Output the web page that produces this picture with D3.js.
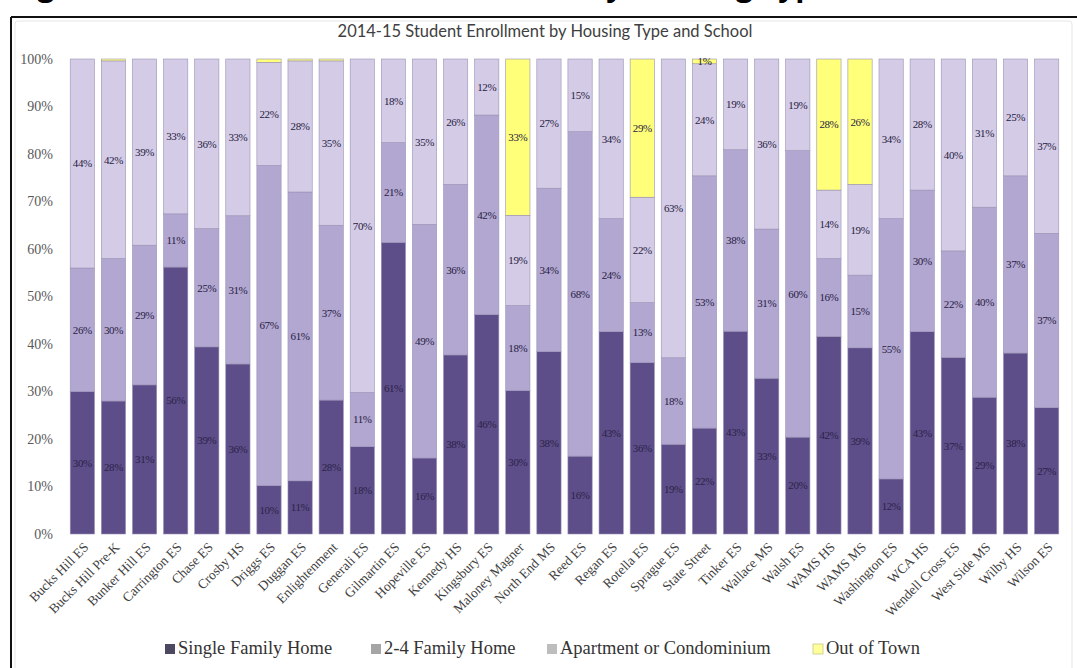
<!DOCTYPE html>
<html>
<head>
<meta charset="utf-8">
<script src="https://cdn.jsdelivr.net/npm/d3@7"></script>
<style>
  html, body { margin: 0; padding: 0; background: #fff; }
  svg { display: block; }
</style>
</head>
<body>
<svg id="chart" width="1077" height="668"></svg>
<script>
// Schools on the x axis
const schools = [
  "Bucks Hill ES", "Bucks Hill Pre-K", "Bunker Hill ES", "Carrington ES", "Chase ES",
  "Crosby HS", "Driggs ES", "Duggan ES", "Enlightenment", "Generali ES",
  "Gilmartin ES", "Hopeville ES", "Kennedy HS", "Kingsbury ES", "Maloney Magner",
  "North End MS", "Reed ES", "Regan ES", "Rotella ES", "Sprague ES",
  "State Street", "Tinker ES", "Wallace MS", "Walsh ES", "WAMS HS",
  "WAMS MS", "Washington ES", "WCA HS", "Wendell Cross ES", "West Side MS",
  "Wilby HS", "Wilson ES"
];

// Share of students (%) by housing type, one value per school
const singleFamily = [30.0, 28.0, 31.4, 56.2, 39.4, 35.8, 10.2, 11.2, 28.2, 18.4,
  61.4, 16.0, 37.7, 46.2, 30.2, 38.4, 16.4, 42.6, 36.1, 18.9,
  22.3, 42.7, 32.8, 20.4, 41.6, 39.2, 11.6, 42.6, 37.2, 28.8,
  38.1, 26.6];
const twoToFour = [26.0, 30.0, 29.4, 11.2, 24.9, 31.2, 67.4, 60.8, 36.8, 11.4,
  21.0, 49.2, 35.9, 42.0, 17.9, 34.4, 68.3, 23.8, 12.6, 18.2,
  53.1, 38.2, 31.4, 60.3, 16.4, 15.3, 54.8, 29.8, 22.4, 40.0,
  37.3, 36.7];
const apartment = [44.0, 41.6, 39.2, 32.6, 35.7, 33.0, 21.7, 27.6, 34.6, 70.2,
  17.6, 34.8, 26.4, 11.8, 19.0, 27.2, 15.3, 33.6, 22.2, 62.9,
  23.6, 19.1, 35.8, 19.3, 14.4, 19.1, 33.6, 27.6, 40.4, 31.2,
  24.6, 36.7];
const outOfTown = [0.0, 0.4, 0.0, 0.0, 0.0, 0.0, 0.7, 0.4, 0.4, 0.0,
  0.0, 0.0, 0.0, 0.0, 32.9, 0.0, 0.0, 0.0, 29.1, 0.0,
  1.0, 0.0, 0.0, 0.0, 27.6, 26.4, 0.0, 0.0, 0.0, 0.0,
  0.0, 0.0];

const seriesNames = ["Single Family Home", "2-4 Family Home", "Apartment or Condominium", "Out of Town"];
const yTicks = [0, 10, 20, 30, 40, 50, 60, 70, 80, 90, 100];

// Fill colours for the bars and for the legend swatches
const barColors = ["#5d4e89", "#b2a7d1", "#d4cce6", "#ffff7a"];
const swatchColors = ["#4d4862", "#a5a5a5", "#bdbdbd", "#ffff99"];

const keys = ["sf", "tf", "ap", "oot"];
const rows = schools.map((s, i) => ({
  school: s, sf: singleFamily[i], tf: twoToFour[i], ap: apartment[i], oot: outOfTown[i]
}));

const svg = d3.select("#chart");
const W = 1077, H = 668;
const serif = "'Liberation Serif', 'DejaVu Serif', serif";

// Page heading above the chart (runs off the top edge)
const heading = svg.append("g")
  .style("font-family", "'Open Sans', sans-serif")
  .style("font-weight", "700")
  .style("font-size", "30px")
  .attr("fill", "#000");
heading.append("text").attr("x", 12).attr("y", -4).text("Figure 9:");
heading.append("text").attr("x", 832).attr("y", -4)
  .attr("text-anchor", "end")
  .text("Student Enrollment by Housing Type");

// Chart frame
svg.append("rect")
  .attr("x", 15).attr("y", 21).attr("width", 1057).attr("height", 660)
  .attr("fill", "#fff").attr("stroke", "#e6e6e6").attr("stroke-width", 1).attr("rx", 3);
svg.append("line").attr("x1", 11).attr("x2", W).attr("y1", 17).attr("y2", 17)
  .attr("stroke", "#111").attr("stroke-width", 2);
svg.append("line").attr("x1", 11).attr("x2", 11).attr("y1", 17).attr("y2", H)
  .attr("stroke", "#111").attr("stroke-width", 2);

// Chart title
svg.append("text")
  .attr("x", 545).attr("y", 37)
  .attr("text-anchor", "middle")
  .style("font-family", "Lato, 'Open Sans', sans-serif")
  .style("font-size", "16.5px")
  .attr("fill", "#404040")
  .text("2014-15 Student Enrollment by Housing Type and School");

// Scales
const x = d3.scaleBand()
  .domain(schools)
  .range([66.8, 1062.2])
  .paddingInner(0.22)
  .paddingOuter(0.11);
const y = d3.scaleLinear().domain([0, 100]).range([534, 59]);

// Y axis
const yAxis = svg.append("g")
  .attr("transform", "translate(53,0)")
  .call(d3.axisLeft(y).tickValues(yTicks).tickFormat(d => d + "%").tickSize(0).tickPadding(0));
yAxis.select(".domain").remove();
yAxis.selectAll("text")
  .style("font-family", serif)
  .style("font-size", "14px")
  .attr("fill", "#595959");

// Stacked bars
const stacked = d3.stack().keys(keys)(rows);
const fmt = v => Math.round(v) + "%";

const layers = svg.append("g").selectAll("g")
  .data(stacked)
  .join("g")
  .attr("fill", (d, i) => barColors[i]);

layers.selectAll("rect")
  .data(d => d)
  .join("rect")
  .attr("x", d => x(d.data.school))
  .attr("width", x.bandwidth())
  .attr("y", d => y(d[1]))
  .attr("height", d => Math.max(0, y(d[0]) - y(d[1])))
  .attr("stroke", "#9a91b5")
  .attr("stroke-width", 0.6);

// Segment value labels
const labelG = svg.append("g")
  .style("font-family", serif)
  .style("font-size", "11px")
  .style("letter-spacing", "-0.4px");
stacked.forEach((layer, li) => {
  labelG.selectAll(null)
    .data(layer.filter(d => d[1] - d[0] >= 0.9))
    .join("text")
    .attr("x", d => x(d.data.school) + x.bandwidth() / 2)
    .attr("y", d => y((d[0] + d[1]) / 2))
    .attr("dy", "0.35em")
    .attr("text-anchor", "middle")
    .attr("fill", li === 0 ? "#2b2248" : "#26203f")
    .text(d => fmt(d[1] - d[0]));
});

// X axis with slanted school names
const xAxis = svg.append("g")
  .attr("transform", "translate(0,539)")
  .call(d3.axisBottom(x).tickSize(0).tickPadding(0));
xAxis.select(".domain").remove();
xAxis.selectAll("text")
  .style("font-family", serif)
  .style("font-size", "13.5px")
  .attr("fill", "#404040")
  .attr("text-anchor", "end")
  .attr("dy", null)
  .attr("transform", "translate(7,9) rotate(-45)");

// Legend
const legendX = [165, 371, 547, 813];
const legend = svg.append("g")
  .style("font-family", serif)
  .style("font-size", "18.5px");
seriesNames.forEach((name, i) => {
  const g = legend.append("g").attr("transform", `translate(${legendX[i]},644)`);
  g.append("rect").attr("width", 10).attr("height", 10)
    .attr("fill", swatchColors[i])
    .attr("stroke", i === 3 ? "#c9c98a" : "none").attr("stroke-width", 0.8);
  g.append("text").attr("x", 13).attr("y", 10)
    .attr("fill", "#333")
    .text(name);
});
</script>
</body>
</html>
